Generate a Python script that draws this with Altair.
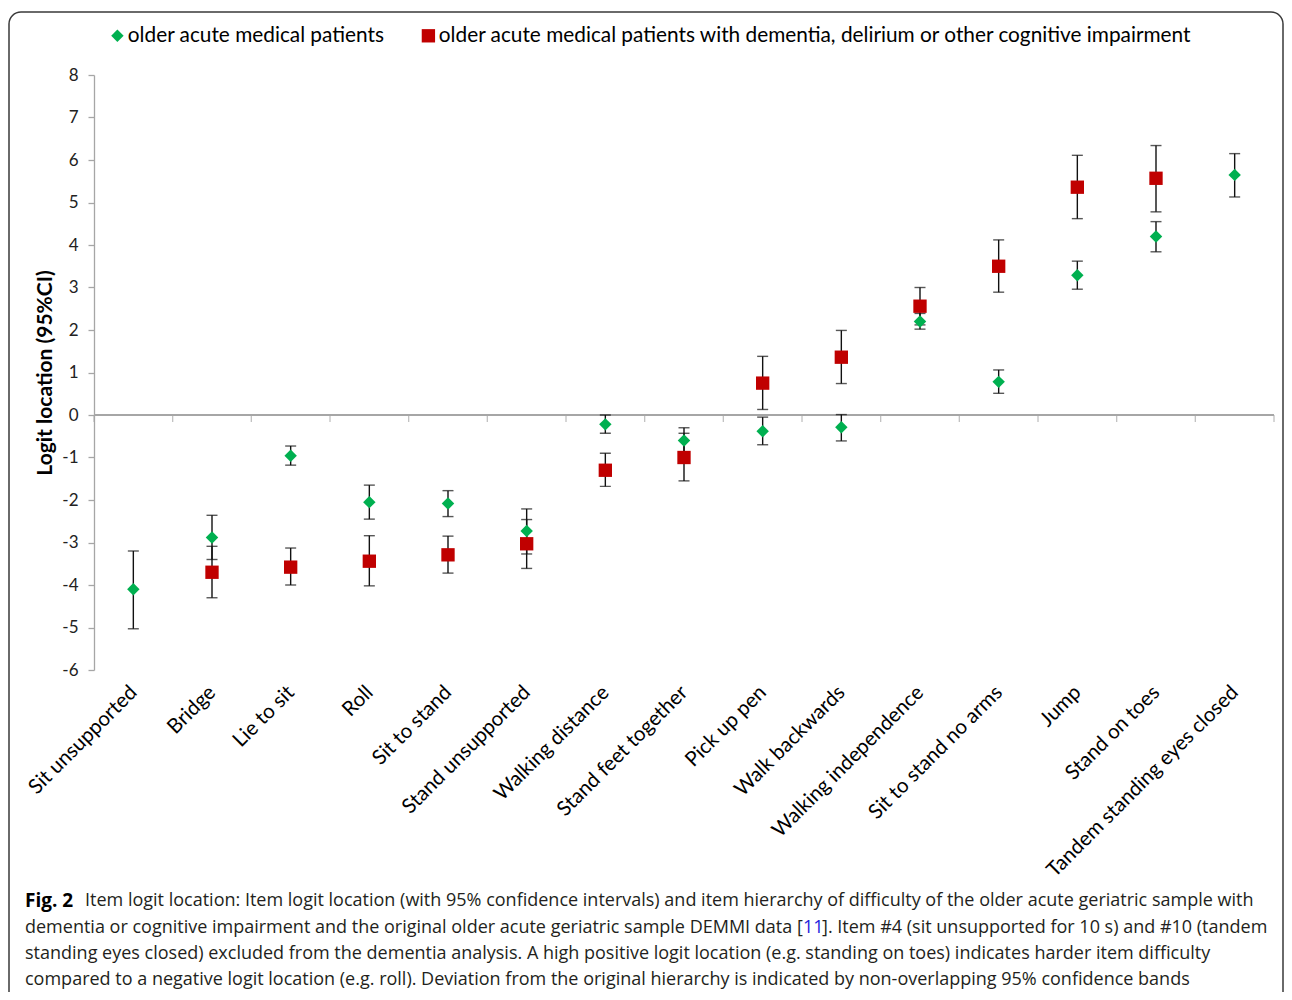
import json
import altair as alt
import pandas as pd

# ---------------- data ----------------
items = [
    "Sit unsupported", "Bridge", "Lie to sit", "Roll", "Sit to stand",
    "Stand unsupported", "Walking distance", "Stand feet together",
    "Pick up pen", "Walk backwards", "Walking independence",
    "Sit to stand no arms", "Jump", "Stand on toes",
    "Tandem standing eyes closed",
]
orig_est = [-4.10, -2.88, -0.96, -2.05, -2.08, -2.73, -0.22, -0.60, -0.38, -0.29, 2.20, 0.78, 3.29, 4.20, 5.65]
orig_lo = [-5.03, -3.40, -1.18, -2.45, -2.39, -3.27, -0.43, -0.88, -0.70, -0.61, 2.02, 0.51, 2.96, 3.84, 5.13]
orig_hi = [-3.20, -2.36, -0.73, -1.65, -1.78, -2.21, 0.00, -0.30, -0.05, 0.01, 2.39, 1.06, 3.62, 4.55, 6.15]
dem_est = [None, -3.70, -3.58, -3.44, -3.29, -3.03, -1.30, -1.00, 0.75, 1.36, 2.56, 3.50, 5.36, 5.57, None]
dem_lo = [None, -4.30, -4.00, -4.02, -3.72, -3.61, -1.68, -1.55, 0.13, 0.74, 2.12, 2.89, 4.62, 4.78, None]
dem_hi = [None, -3.09, -3.13, -2.84, -2.85, -2.46, -0.90, -0.43, 1.38, 1.99, 3.00, 4.12, 6.11, 6.34, None]

series_names = [
    "older acute medical patients",
    "older acute medical patients with dementia, delirium or other cognitive impairment",
]
series_colors = ["#00B050", "#C00000"]
series_shapes = ["diamond", "square"]
y_ticks = list(range(-6, 9))

caption_bold = "Fig. 2"
caption_line1 = "Item logit location: Item logit location (with 95% confidence intervals) and item hierarchy of difficulty of the older acute geriatric sample with"
caption_line2a = "dementia or cognitive impairment and the original older acute geriatric sample DEMMI data ["
caption_ref = "11"
caption_line2b = "]. Item #4 (sit unsupported for 10 s) and #10 (tandem"
caption_line3 = "standing eyes closed) excluded from the dementia analysis. A high positive logit location (e.g. standing on toes) indicates harder item difficulty"
caption_line4 = "compared to a negative logit location (e.g. roll). Deviation from the original hierarchy is indicated by non-overlapping 95% confidence bands"

# ---------------- tables ----------------
rows = []
for s, (est, lo, hi) in enumerate([(orig_est, orig_lo, orig_hi), (dem_est, dem_lo, dem_hi)]):
    for i, name in enumerate(items):
        if est[i] is None:
            continue
        rows.append(dict(idx=i + 1, item=name, series=series_names[s], order=s,
                         est=est[i], lo=lo[i], hi=hi[i]))
df = pd.DataFrame(rows)
bounds = pd.DataFrame({"b": [i + 0.5 for i in range(len(items) + 1)]})

# ---------------- layout ----------------
W, H = 1180, 595
PAD_L, PAD_T, PAD_R, PAD_B = 86, 67, 10, 322
FONT = "Lato"
CAP_FONT = "Open Sans"
AXIS_GRAY = "#A6A6A6"

x_scale = alt.Scale(domain=[0.5, len(items) + 0.5], nice=False, zero=False)
x_axis = alt.Axis(
    values=list(range(1, len(items) + 1)),
    labelExpr=f"{json.dumps(items)}[datum.value - 1]",
    labelAngle=-45, labelAlign="right", labelBaseline="middle",
    labelFont=FONT, labelFontSize=20.5, labelColor="#000000", labelLimit=600,
    labelPadding=19, labelOverlap=False, labelBound=False, labelFlush=False,
    domain=False, ticks=False, grid=False,
)
x_enc = alt.X("idx:Q", scale=x_scale, axis=x_axis, title=None)

y_scale = alt.Scale(domain=[-6, 8], nice=False, zero=False)
y_title = "Logit location (95%CI)"
y_axis = alt.Axis(
    values=y_ticks, grid=False, domainColor=AXIS_GRAY, domainWidth=1.3,
    tickColor=AXIS_GRAY, tickSize=6, tickWidth=1.3,
    labelExpr="'' + datum.value",
    labelFont=FONT, labelFontSize=17, labelColor="#222222", labelPadding=10,
    title=y_title, titleFont=FONT, titleFontSize=21,
    titleFontWeight="bold", titleColor="#000000", titlePadding=6,
)

base = alt.Chart(df)

zero_line = base.mark_rule(color=AXIS_GRAY, strokeWidth=1.3).encode(
    y=alt.datum(0, scale=y_scale, axis=y_axis, title=y_title)
)
zero_ticks = alt.Chart(bounds).mark_tick(
    orient="vertical", size=7, thickness=1.3, color=AXIS_GRAY, yOffset=3.5
).encode(
    x=alt.X("b:Q", scale=x_scale, axis=x_axis, title=None),
    y=alt.datum(0, scale=y_scale, axis=y_axis, title=y_title),
)

err_line = base.mark_rule(color="#111111", strokeWidth=1.4).encode(
    x=x_enc,
    y=alt.Y("lo:Q", scale=y_scale, axis=y_axis, title=y_title),
    y2="hi:Q",
)
cap_lo = base.mark_tick(orient="horizontal", size=11, thickness=1.4, color="#111111").encode(
    x=x_enc, y=alt.Y("lo:Q", scale=y_scale, axis=y_axis, title=y_title)
)
cap_hi = base.mark_tick(orient="horizontal", size=11, thickness=1.4, color="#111111").encode(
    x=x_enc, y=alt.Y("hi:Q", scale=y_scale, axis=y_axis, title=y_title)
)

legend_kw = dict(
    orient="none", legendX=13, legendY=-50, direction="horizontal", title=None,
    labelFont=FONT, labelFontSize=20.8, labelColor="#000000", labelLimit=2000,
    symbolSize=150, symbolStrokeWidth=0, columnPadding=33, labelOffset=0, padding=0,
)
points = base.mark_point(filled=True, opacity=1, strokeWidth=0).encode(
    x=x_enc,
    y=alt.Y("est:Q", scale=y_scale, axis=y_axis, title=y_title),
    color=alt.Color("series:N", scale=alt.Scale(domain=series_names, range=series_colors),
                    legend=alt.Legend(**legend_kw)),
    shape=alt.Shape("series:N", scale=alt.Scale(domain=series_names, range=series_shapes),
                    legend=alt.Legend(**legend_kw)),
    size=alt.Size("series:N", scale=alt.Scale(domain=series_names, range=[155, 178]), legend=None),
    order=alt.Order("order:Q"),
)

# frame around the figure
frame = alt.Chart(pd.DataFrame({"k": [0]})).mark_rect(
    fillOpacity=0, stroke="#3a3a3a", strokeWidth=1.5, cornerRadius=12
).encode(
    x=alt.value(9 - 94), x2=alt.value(1283 - 94),
    y=alt.value(12 - 75), y2=alt.value(1040 - 75),
)

# caption
CAP_COLOR = "#231F20"
CAP_SIZE = 18


def cap_text(txt, xpx, ypx, color=CAP_COLOR, weight="normal", size=CAP_SIZE):
    return alt.Chart(pd.DataFrame({"t": [txt]})).mark_text(
        align="left", baseline="middle", font=CAP_FONT, fontSize=size,
        color=color, fontWeight=weight,
    ).encode(text="t:N", x=alt.value(xpx - 94), y=alt.value(ypx - 75))


captions = [
    cap_text(caption_bold, 25, 901, color="#000000", weight="bold", size=19),
    cap_text(caption_line1, 85, 901),
    cap_text(caption_line2a, 25, 927.5),
    cap_text(caption_ref, 803, 927.5, color="#2323DD"),
    cap_text(caption_line2b, 822, 927.5),
    cap_text(caption_line3, 25, 954),
    cap_text(caption_line4, 25, 980),
]

chart = alt.layer(
    frame, zero_line, zero_ticks, err_line, cap_lo, cap_hi, points, *captions
).properties(
    width=W, height=H,
    autosize=alt.AutoSizeParams(type="none"),
    padding={"left": PAD_L, "top": PAD_T, "right": PAD_R, "bottom": PAD_B},
    background="white",
).configure_view(stroke=None)

chart.save("out.html", embed_options={"renderer": "svg", "actions": False})
